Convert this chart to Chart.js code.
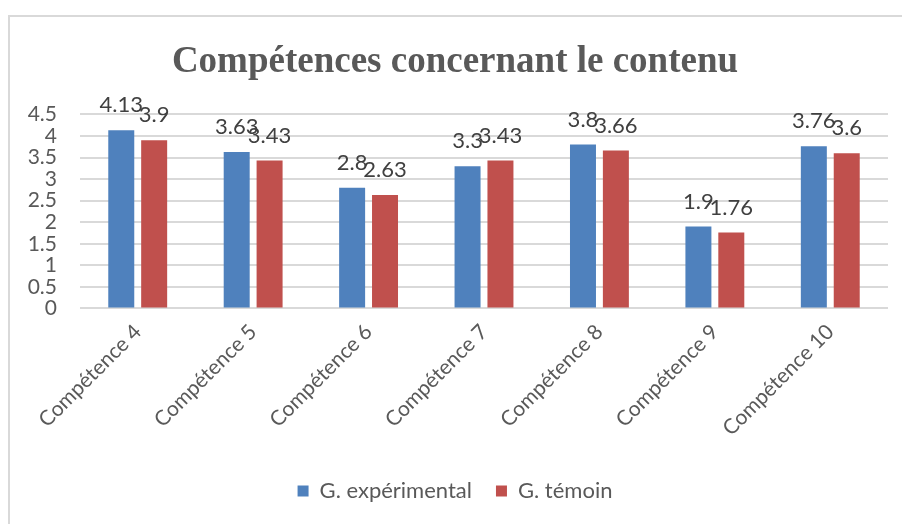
<!DOCTYPE html>
<html>
<head>
<meta charset="utf-8">
<script src="https://cdn.jsdelivr.net/npm/chart.js@4"></script>
<style>
  html, body { margin: 0; padding: 0; background: #fff; }
  #frame {
    position: absolute; left: 8px; top: 15px; width: 920px; height: 540px;
    border-top: 2px solid #d9d9d9; border-left: 2px solid #d9d9d9;
  }
  #wrap { position: absolute; left: 0; top: 0; width: 902px; height: 524px; }
</style>
</head>
<body>
<div id="frame"></div>
<div id="wrap"><canvas id="myChart"></canvas></div>
<script>
const categories = ["Compétence 4", "Compétence 5", "Compétence 6", "Compétence 7", "Compétence 8", "Compétence 9", "Compétence 10"];
const experimental = [4.13, 3.63, 2.8, 3.3, 3.8, 1.9, 3.76];
const temoin = [3.9, 3.43, 2.63, 3.43, 3.66, 1.76, 3.6];
const seriesNames = ["G. expérimental", "G. témoin"];

const fontFamily = "Lato, 'Open Sans', sans-serif";

// simple value labels above each bar
const barLabels = {
  id: "barLabels",
  afterDatasetsDraw(chart) {
    const ctx = chart.ctx;
    ctx.save();
    ctx.font = "22px " + fontFamily;
    ctx.fillStyle = "#404040";
    ctx.textAlign = "center";
    ctx.textBaseline = "alphabetic";
    chart.data.datasets.forEach((ds, i) => {
      chart.getDatasetMeta(i).data.forEach((bar, j) => {
        ctx.fillText(String(ds.data[j]), bar.x, bar.y - 18);
      });
    });
    ctx.restore();
  }
};

const config = {
  type: "bar",
  data: {
    labels: categories,
    datasets: [
      {
        label: seriesNames[0],
        data: experimental,
        backgroundColor: "#4f81bd",
        categoryPercentage: 0.57,
        barPercentage: 0.79
      },
      {
        label: seriesNames[1],
        data: temoin,
        backgroundColor: "#c0504d",
        categoryPercentage: 0.57,
        barPercentage: 0.79
      }
    ]
  },
  options: {
    responsive: true,
    maintainAspectRatio: false,
    animation: false,
    layout: { autoPadding: false, padding: { left: 22, right: 14, top: 40, bottom: 12 } },
    plugins: {
      title: {
        display: true,
        text: "Compétences concernant le contenu",
        color: "#595959",
        font: { family: "'Liberation Serif', serif", size: 37, weight: "bold" },
        padding: { top: 0, bottom: 30 }
      },
      legend: {
        position: "bottom",
        labels: {
          color: "#595959",
          font: { family: fontFamily, size: 22 },
          boxWidth: 11,
          boxHeight: 11,
          padding: 24
        }
      },
      tooltip: { enabled: false }
    },
    scales: {
      x: {
        grid: { display: false },
        border: { display: false },
        afterFit: (s) => { s.height += 12; },
        ticks: {
          color: "#595959",
          font: { family: fontFamily, size: 21 },
          maxRotation: 45,
          minRotation: 45
        }
      },
      y: {
        min: 0,
        max: 4.5,
        border: { display: false },
        grid: { color: "#d9d9d9", lineWidth: 2, drawTicks: false },
        afterFit: (s) => { s.width = 58; },
        ticks: {
          stepSize: 0.5,
          autoSkip: false,
          color: "#595959",
          font: { family: fontFamily, size: 21 },
          padding: 23,
          callback: (v) => String(Number(v))
        }
      }
    }
  },
  plugins: [barLabels]
};

new Chart(document.getElementById("myChart"), config);
</script>
</body>
</html>
